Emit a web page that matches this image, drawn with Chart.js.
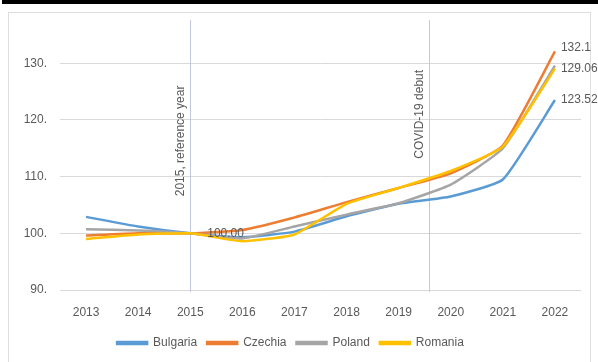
<!DOCTYPE html>
<html>
<head>
<meta charset="utf-8">
<script src="https://cdn.jsdelivr.net/npm/chart.js@4.4.1/dist/chart.umd.min.js"></script>
<style>
  html, body { margin: 0; padding: 0; background: #fff; }
  #wrap { width: 598px; height: 362px; position: relative; }
</style>
</head>
<body>
<div id="wrap"><canvas id="gdpChart"></canvas></div>
<script>
// 資料
const years = ["2013", "2014", "2015", "2016", "2017", "2018", "2019", "2020", "2021", "2022"];
const bulgaria = [102.9, 101.2, 100, 99.3, 100.3, 103.0, 105.2, 106.5, 109.5, 123.52];
const czechia = [99.6, 100.0, 100, 100.6, 102.8, 105.5, 108.0, 110.6, 115.5, 132.1];
const poland = [100.7, 100.5, 100, 99.1, 101.2, 103.3, 105.3, 108.6, 115.0, 129.6];
const romania = [99.0, 99.8, 100, 98.6, 99.8, 105.2, 108.0, 111.0, 115.3, 129.06];
const yTicks = [90, 100, 110, 120, 130];

// vertical markers: x in category index units, text centre in y units
const markerAt = [2, 6.58];
const markerText = ["2015, reference year", "COVID-19 debut"];
const markerTextY = [116.3, 121];

// data labels: [dataset index, point index, text]
const pointLabels = [
  [1, 9, "132.1"],
  [3, 9, "129.06"],
  [0, 9, "123.52"],
  [2, 2, "100.00"],
];

const FONT = "'Liberation Sans', Arial, sans-serif";
const TXT = "#595959";

const framePlugin = {
  id: "frame",
  beforeDraw(chart) {
    const ctx = chart.ctx;
    ctx.save();
    ctx.fillStyle = "#fff";
    ctx.fillRect(0, 0, chart.width, chart.height);
    ctx.strokeStyle = "#dedede";
    ctx.lineWidth = 1;
    ctx.strokeRect(8.5, 12.5, 582, 360);
    ctx.fillStyle = "#000";
    ctx.fillRect(2, 0, chart.width - 2, 4);
    ctx.restore();
  },
  beforeDatasetsDraw(chart) {
    const { ctx, chartArea, scales } = chart;
    ctx.save();
    markerAt.forEach((v, i) => {
      const x = Math.round(scales.x.getPixelForValue(v)) + 0.5;
      ctx.strokeStyle = "#c3c7dd";
      ctx.lineWidth = 1;
      ctx.beginPath();
      ctx.moveTo(x, chartArea.top);
      ctx.lineTo(x, chartArea.bottom + 2);
      ctx.stroke();
      ctx.translate(x - 10, scales.y.getPixelForValue(markerTextY[i]));
      ctx.rotate(-Math.PI / 2);
      ctx.fillStyle = TXT;
      ctx.font = "12px " + FONT;
      ctx.textAlign = "center";
      ctx.textBaseline = "middle";
      ctx.fillText(markerText[i], 0, 0);
      ctx.setTransform(1, 0, 0, 1, 0, 0);
    });
    ctx.restore();
  },
  afterDatasetsDraw(chart) {
    const ctx = chart.ctx;
    ctx.save();
    ctx.fillStyle = TXT;
    ctx.font = "12px " + FONT;
    ctx.textBaseline = "middle";
    pointLabels.forEach(([ds, idx, text]) => {
      const pt = chart.getDatasetMeta(ds).data[idx];
      let dx = 6, dy = 0;
      if (ds === 1) dy = -4;
      if (ds === 2) dx = 17;
      ctx.fillText(text, pt.x + dx, pt.y + dy);
    });
    ctx.restore();
  },
};

function series(label, data, color, order) {
  return {
    label, data,
    borderColor: color,
    backgroundColor: color,
    borderWidth: 2.5,
    pointRadius: 0,
    tension: 0.15,
    fill: false,
    order,
  };
}

new Chart(document.getElementById("gdpChart"), {
  type: "line",
  data: {
    labels: years,
    datasets: [
      series("Bulgaria", bulgaria, "#5b9bd5", 3),
      series("Czechia", czechia, "#ed7d31", 2),
      series("Poland", poland, "#a5a5a5", 1),
      series("Romania", romania, "#ffc000", 0),
    ],
  },
  options: {
    responsive: true,
    maintainAspectRatio: false,
    animation: false,
    layout: { padding: { top: 13, right: 17, bottom: 3, left: 0 } },
    plugins: {
      tooltip: { enabled: false },
      legend: {
        position: "bottom",
        labels: {
          boxWidth: 30,
          boxHeight: 2,
          padding: 10,
          color: TXT,
          font: { family: FONT, size: 12 },
          sort: (a, b) => a.datasetIndex - b.datasetIndex,
        },
      },
    },
    scales: {
      x: {
        offset: true,
        grid: { display: false, drawTicks: false },
        border: { display: false },
        ticks: { color: TXT, font: { family: FONT, size: 12 }, padding: 15, maxRotation: 0 },
        afterFit(scale) { scale.height = 37; },
      },
      y: {
        min: 90,
        max: 137.6,
        afterBuildTicks(scale) { scale.ticks = yTicks.map((v) => ({ value: v })); },
        grid: { color: "#d9d9d9", drawTicks: false },
        border: { display: false },
        ticks: {
          color: TXT,
          font: { family: FONT, size: 12 },
          padding: 13,
          callback: (v) => v + ".",
        },
        afterFit(scale) { scale.width = 60; },
      },
    },
  },
  plugins: [framePlugin],
});
</script>
</body>
</html>
